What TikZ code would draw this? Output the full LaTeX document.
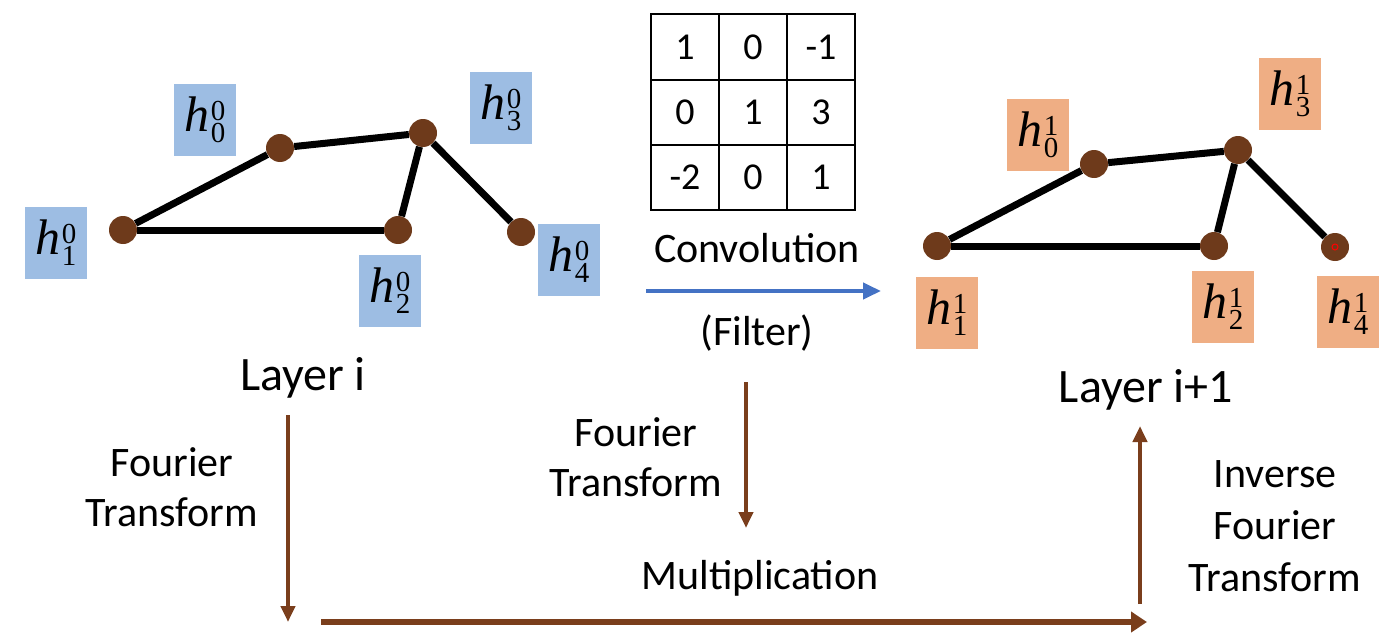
\documentclass[tikz,border=0pt]{standalone}
\usepackage{fontspec}
\setmainfont{Carlito}
\newfontfamily\labfont{Liberation Serif}
\usetikzlibrary{arrows.meta}
\definecolor{nodebrown}{HTML}{6E3A1B}
\definecolor{arrbrown}{HTML}{7A3E1C}
\definecolor{boxblue}{HTML}{9DBDE3}
\definecolor{boxorange}{HTML}{EFAE84}
\definecolor{convblue}{HTML}{4472C4}
\newcommand\hlab[2]{{\labfont\fontsize{50}{50}\selectfont\itshape h}\kern1pt\raisebox{-11pt}{\labfont\fontsize{29}{25}\selectfont\shortstack[l]{#2\\#1}}}
\tikzset{
  dot/.style={circle, fill=nodebrown, minimum size=28pt, inner sep=0pt},
  edge/.style={line width=7pt, black},
  lblbox/.style={minimum width=62pt, minimum height=72pt, inner sep=0pt},
  blbox/.style={lblbox, fill=boxblue},
  orbox/.style={lblbox, fill=boxorange},
  txt/.style={font=\fontsize{42}{50}\selectfont, align=center, inner sep=0pt},
  bigtxt/.style={font=\fontsize{48}{56}\selectfont, inner sep=0pt},
  cell/.style={font=\fontsize{38}{40}\selectfont, inner sep=0pt},
  brarrow/.style={arrbrown, line width=4pt, -{Triangle[length=16pt,width=14pt]}},
}
\begin{document}
\begin{tikzpicture}[x=1pt,y=-1pt]
\useasboundingbox (0,0) rectangle (1392,642);
% Layer i graph
\node[dot] (a1) at (123,230) {};
\node[dot] (a0) at (280,148) {};
\node[dot] (a3) at (423,133) {};
\node[dot] (a2) at (398,230) {};
\node[dot] (a4) at (521,232) {};
\draw[edge] (a1) -- (a0);
\draw[edge] (a0) -- (a3);
\draw[edge] (a3) -- (a2);
\draw[edge] (a3) -- (a4);
\draw[edge] (a1) -- (a2);
\node[blbox] (la0) at (205,120) {\hlab{0}{0}};
\node[blbox] (la1) at (56,243) {\hlab{1}{0}};
\node[blbox] (la2) at (390,291) {\hlab{2}{0}};
\node[blbox] (la3) at (501,108) {\hlab{3}{0}};
\node[blbox] (la4) at (569,260) {\hlab{4}{0}};
\node[bigtxt] (layi) at (303,378) {Layer i};
% Filter matrix
\draw[line width=1.2pt] (651,14) rectangle (855,210);
\draw[line width=1.2pt] (719,14) -- (719,210) (787,14) -- (787,210)
  (651,80) -- (855,80) (651,145) -- (855,145);
\node[cell] (m11) at (685,47) {1};
\node[cell] (m12) at (753,47) {0};
\node[cell] (m13) at (821,47) {-1};
\node[cell] (m21) at (685,112) {0};
\node[cell] (m22) at (753,112) {1};
\node[cell] (m23) at (821,112) {3};
\node[cell] (m31) at (685,177) {-2};
\node[cell] (m32) at (753,177) {0};
\node[cell] (m33) at (821,177) {1};
\node[txt] (conv) at (757,248) {Convolution};
\node[txt] (filt) at (757,333) {(Filter)};
\coordinate (cs) at (646,291);
\coordinate (ce) at (881,291);
\draw[convblue, line width=4pt, -{Triangle[length=18pt,width=16pt]}] (cs) -- (ce);
% Layer i+1 graph
\node[dot] (b1) at (937,246) {};
\node[dot] (b0) at (1094,164) {};
\node[dot] (b3) at (1238,150) {};
\node[dot] (b2) at (1214,246) {};
\node[dot] (b4) at (1335,247) {};
\draw[edge] (b1) -- (b0);
\draw[edge] (b0) -- (b3);
\draw[edge] (b3) -- (b2);
\draw[edge] (b3) -- (b4);
\draw[edge] (b1) -- (b2);
\draw[red, line width=1pt] (b4.center) circle (3pt);
\node[orbox] (lb0) at (1038,135) {\hlab{0}{1}};
\node[orbox] (lb3) at (1290,94) {\hlab{3}{1}};
\node[orbox] (lb1) at (947,313) {\hlab{1}{1}};
\node[orbox] (lb2) at (1223,307) {\hlab{2}{1}};
\node[orbox] (lb4) at (1348,312) {\hlab{4}{1}};
\node[bigtxt] (layj) at (1146,390) {Layer i+1};
% Fourier part
\coordinate (l1) at (288,415);
\coordinate (l2) at (288,622);
\draw[brarrow] (l1) -- (l2);
\node[txt] (ft1) at (172,487) {Fourier\\Transform};
\coordinate (m1) at (746,382);
\coordinate (m2) at (746,528);
\draw[brarrow] (m1) -- (m2);
\node[txt] (ft2) at (636,457) {Fourier\\Transform};
\coordinate (h1) at (321,622);
\coordinate (h2) at (1147,622);
\draw[arrbrown, line width=6pt, -{Triangle[length=16pt,width=20pt]}] (h1) -- (h2);
\node[txt] (mult) at (760,578) {Multiplication};
\coordinate (r1) at (1140,604);
\coordinate (r2) at (1140,426);
\draw[brarrow] (r1) -- (r2);
\node[txt, font=\fontsize{42}{52}\selectfont] (ift) at (1275,526) {Inverse\\Fourier\\Transform};
\end{tikzpicture}
\end{document}
